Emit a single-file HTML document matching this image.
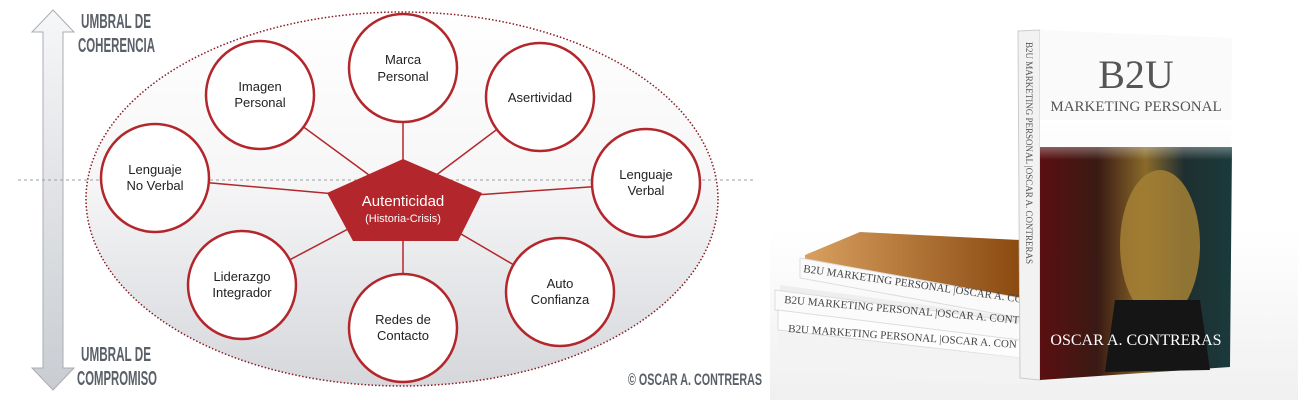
<!DOCTYPE html>
<html><head><meta charset="utf-8"><style>
body{margin:0;width:1298px;height:400px;overflow:hidden;background:#fff}
svg{display:block}
</style></head><body>
<svg width="1298" height="400" viewBox="0 0 1298 400" xmlns="http://www.w3.org/2000/svg">
<defs>
<linearGradient id="eg" x1="0" y1="0" x2="0" y2="1">
<stop offset="0" stop-color="#ffffff"/><stop offset="0.45" stop-color="#f6f6f7"/><stop offset="1" stop-color="#d5d7db"/></linearGradient>
<linearGradient id="ag" x1="0" y1="0" x2="0" y2="1">
<stop offset="0" stop-color="#f6f7f8"/><stop offset="1" stop-color="#c9ccd1"/></linearGradient>
<linearGradient id="cv" x1="0" y1="0" x2="1" y2="0">
<stop offset="0" stop-color="#5a0f10"/><stop offset="0.3" stop-color="#3a1a14"/><stop offset="0.55" stop-color="#8a6a2a"/><stop offset="0.75" stop-color="#1f2f30"/><stop offset="1" stop-color="#1a3a3c"/></linearGradient>
<linearGradient id="fade" x1="0" y1="0" x2="0" y2="1">
<stop offset="0" stop-color="#fff" stop-opacity="1"/><stop offset="1" stop-color="#fff" stop-opacity="0"/></linearGradient>
<linearGradient id="floor" x1="0" y1="0" x2="0" y2="1">
<stop offset="0" stop-color="#fff"/><stop offset="1" stop-color="#f0f0f0"/></linearGradient>
<linearGradient id="orng" x1="0" y1="0" x2="1" y2="0">
<stop offset="0" stop-color="#d9a060"/><stop offset="1" stop-color="#8a4a10"/></linearGradient>
</defs>
<polygon points="53,10 74,32 63,32 63,368 74,368 53,390 32,368 43,368 43,32 32,32" fill="url(#ag)" stroke="#a9adb3" stroke-width="1"/>
<rect x="770" y="230" width="528" height="170" fill="url(#floor)"/>
<g font-family="Liberation Sans Narrow, Liberation Sans, sans-serif" font-weight="bold" fill="#5a6068" font-size="20">
<text x="81" y="28" textLength="70" lengthAdjust="spacingAndGlyphs">UMBRAL DE</text>
<text x="78" y="52" textLength="77" lengthAdjust="spacingAndGlyphs">COHERENCIA</text>
<text x="81" y="361" textLength="70" lengthAdjust="spacingAndGlyphs">UMBRAL DE</text>
<text x="77" y="385" textLength="80" lengthAdjust="spacingAndGlyphs">COMPROMISO</text>
<text x="628" y="385" font-size="17" textLength="134" lengthAdjust="spacingAndGlyphs">© OSCAR A. CONTRERAS</text>
</g>
<ellipse cx="402" cy="199" rx="316" ry="187" fill="url(#eg)" stroke="#8a1a22" stroke-width="1.5" stroke-dasharray="1.5 2"/>
<line x1="18" y1="180" x2="755" y2="180" stroke="#9aa0a6" stroke-width="1" stroke-dasharray="3 3"/>
<g stroke="#b3262b" stroke-width="1.5">
<line x1="403" y1="193" x2="403" y2="68"/>
<line x1="403" y1="200" x2="260" y2="95"/>
<line x1="403" y1="200" x2="540" y2="97"/>
<line x1="403" y1="200" x2="155" y2="178"/>
<line x1="403" y1="200" x2="646" y2="183"/>
<line x1="403" y1="200" x2="242" y2="285"/>
<line x1="403" y1="200" x2="560" y2="292"/>
<line x1="403" y1="200" x2="403" y2="328"/>
</g>
<g fill="#fff" stroke="#b3262b" stroke-width="2.5">
<circle cx="403" cy="68" r="54"/>
<circle cx="260" cy="95" r="54"/>
<circle cx="540" cy="97" r="54"/>
<circle cx="155" cy="178" r="54"/>
<circle cx="646" cy="183" r="54"/>
<circle cx="242" cy="285" r="54"/>
<circle cx="560" cy="292" r="54"/>
<circle cx="403" cy="328" r="54"/>
</g>
<polygon points="403,159 482,193 458,241 353,241 327,193" fill="#b3262b"/>
<g font-family="Liberation Sans, sans-serif" font-size="13" fill="#222" text-anchor="middle">
<text x="403" y="64">Marca</text><text x="403" y="81">Personal</text>
<text x="260" y="91">Imagen</text><text x="260" y="107">Personal</text>
<text x="540" y="102">Asertividad</text>
<text x="155" y="174">Lenguaje</text><text x="155" y="190">No Verbal</text>
<text x="646" y="179">Lenguaje</text><text x="646" y="195">Verbal</text>
<text x="242" y="281">Liderazgo</text><text x="242" y="297">Integrador</text>
<text x="560" y="288">Auto</text><text x="560" y="304">Confianza</text>
<text x="403" y="324">Redes de</text><text x="403" y="340">Contacto</text>
<text x="403" y="206" fill="#fff" font-size="15">Autenticidad</text>
<text x="403" y="222" fill="#fff" font-size="11">(Historia-Crisis)</text>
</g>
<polygon points="805,255 860,232 1020,240 1020,300 805,275" fill="url(#orng)"/>
<polygon points="800,258 1020,298 1020,318 800,278" fill="#fafafa" stroke="#ddd"/>
<polygon points="780,285 1020,318 1020,330 780,300" fill="#eee"/>
<polygon points="775,290 1020,322 1020,342 775,310" fill="#fbfbfb" stroke="#ddd"/>
<polygon points="778,310 1020,340 1020,358 778,330" fill="#fdfdfd" stroke="#ddd"/>
<polygon points="778,332 1020,358 1020,385 778,370" fill="#f3f3f3"/>
<g font-family="Liberation Serif, serif" fill="#444">
<text x="803" y="272" font-size="11" transform="rotate(8 803 272)">B2U  MARKETING PERSONAL  |OSCAR A. CONTRERAS</text>
<text x="784" y="303" font-size="11" transform="rotate(5 784 303)">B2U  MARKETING PERSONAL  |OSCAR A. CONTRER</text>
<text x="788" y="332" font-size="11" transform="rotate(4 788 332)">B2U  MARKETING PERSONAL  |OSCAR A. CON</text>
</g>
<polygon points="1018,31 1040,30 1040,380 1020,378" fill="#f2f2f2" stroke="#ccc"/>
<polygon points="1040,30 1232,38 1230,367 1040,380" fill="#fafafa"/>
<polygon points="1040,147 1232,147 1230,367 1040,380" fill="url(#cv)"/>
<rect x="1040" y="120" width="192" height="40" fill="url(#fade)"/>
<ellipse cx="1160" cy="245" rx="40" ry="75" fill="#a58035" opacity="0.85"/>
<polygon points="1115,300 1200,300 1210,370 1105,372" fill="#151515"/>
<g font-family="Liberation Serif, serif" fill="#555" text-anchor="middle">
<text x="1136" y="88" font-size="40">B2U</text>
<text x="1136" y="111" font-size="15">MARKETING PERSONAL</text>
<text x="1136" y="345" font-size="16" fill="#fff">OSCAR A. CONTRERAS</text>
</g>
<text x="1026" y="42" font-family="Liberation Serif, serif" font-size="9" fill="#555" transform="rotate(90 1026 42)">B2U  MARKETING PERSONAL  |OSCAR A. CONTRERAS</text>
</svg>
</body></html>
